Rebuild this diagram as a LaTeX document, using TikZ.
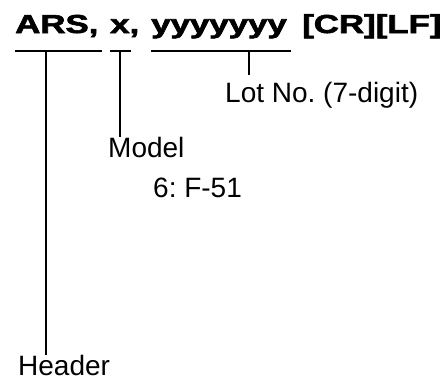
\documentclass[tikz,border=0pt]{standalone}
\usepackage{fontspec}
\setmainfont{Liberation Sans}
\newfontfamily\heavyfont[FakeBold=2.2]{Liberation Sans Bold}
\usepackage{graphicx}
\usepackage{tikz}
\usetikzlibrary{positioning,calc}

\newcommand{\hd}[1]{\scalebox{1.34}[1]{\fontsize{26}{28}\selectfont\heavyfont #1}}

\begin{document}
\frenchspacing
\begin{tikzpicture}[x=1pt, y=-1pt,
  part/.style={inner sep=0pt, anchor=base west},
  lbl/.style={inner sep=0pt, anchor=base west, font=\fontsize{28}{30}\selectfont},
  uline/.style={line width=1.8pt},
  lead/.style={line width=1.8pt},
  thin/.style={line width=1.1pt}
]
\useasboundingbox (0,0) rectangle (445,381);

% command string
\node[part] (ars)  at (15,33)  {\hd{ARS,}};
\node[part] (mdl)  at (110,33) {\hd{x,}};
\node[part] (lot)  at (151,33) {\hd{yyyyyyy}};
\node[part] (crlf) at (302,33) {\hd{[CR][LF]}};

% underlines
\coordinate (a1) at (15,51);  \coordinate (a2) at (102,51);
\coordinate (m1) at (110,51); \coordinate (m2) at (131,51);
\coordinate (l1) at (151,51); \coordinate (l2) at (291,51);
\draw[uline] (a1) -- (a2);
\draw[uline] (m1) -- (m2);
\draw[uline] (l1) -- (l2);

% labels
\node[lbl] (lotno)  at (225,102) {Lot No. (7-digit)};
\node[lbl] (model)  at (108,157) {Model};
\node[lbl] (mval)   at (153,197) {6: F-51};
\node[lbl] (header) at (18,375)  {Header};

% leaders
\coordinate (atop) at (46,51);
\coordinate (mtop) at (120,51);
\coordinate (ltop) at (249,51);
\coordinate (ltip) at (249,75);
\draw[lead] (atop) -- (atop |- header.north);
\draw[thin] (mtop) -- (mtop |- model.north);
\draw[lead] (ltop) -- (ltip);
\end{tikzpicture}
\end{document}
